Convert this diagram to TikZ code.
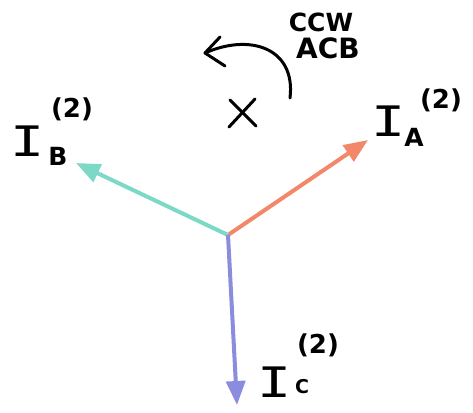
\documentclass[tikz,border=0pt]{standalone}
\usepackage{fontspec}
\usepackage{graphicx}
\setmainfont{DejaVu Sans}
\newfontfamily\barfont{DejaVu Sans Mono}
\usetikzlibrary{arrows.meta}
\definecolor{phA}{RGB}{242,135,106}
\definecolor{phB}{RGB}{126,216,198}
\definecolor{phC}{RGB}{140,140,222}
\newcommand{\wideI}{\scalebox{1.35}[1]{I}}
\tikzset{
  phasor/.style={line width=4pt,-{Triangle[length=24pt,width=19pt]}},
  ink/.style={line width=3pt,line cap=round,line join=round,black},
  bigI/.style={inner sep=0pt,font=\barfont\fontsize{42}{42}\selectfont},
  sub/.style={inner sep=0pt,font=\bfseries\fontsize{25}{25}\selectfont},
  sup/.style={inner sep=0pt,font=\bfseries\fontsize{26}{26}\selectfont},
  note/.style={inner sep=0pt,font=\bfseries\fontsize{25}{25}\selectfont}
}
\begin{document}
\begin{tikzpicture}[x=1pt,y=-1pt]
\useasboundingbox (0,0) rectangle (473,412);
\coordinate (O) at (228,235);
\coordinate (tA) at (368,140);
\coordinate (tB) at (76,163);
\coordinate (tC) at (237,405);
\draw[phasor,phA] (O) -- (tA);
\draw[phasor,phB] (O) -- (tB);
\draw[phasor,phC] (O) -- (tC);
% labels
\node[bigI] (IA) at (389,121) {\wideI};
\node[sub] (IAs) at (414,137) {A};
\node[sup] (IAp) at (441,100) {(2)};
\node[bigI] (IB) at (28,141) {\wideI};
\node[sub] (IBs) at (58,156) {B};
\node[sup] (IBp) at (72,109) {(2)};
\node[bigI] (IC) at (275,382) {\wideI};
\node[sub,font=\bfseries\fontsize{19}{19}\selectfont] (ICs) at (302,387) {C};
\node[sup] (ICp) at (318,345) {(2)};
% rotation note
\node[note] (ccw) at (321,22) {CCW};
\node[note,font=\bfseries\fontsize{28}{28}\selectfont] (acb) at (328,48) {ACB};
\coordinate (r0) at (290,98);
\coordinate (r1) at (205,53);
\draw[ink] (r0) .. controls (296,48) and (250,33) .. (r1);
\draw[ink] (r1) -- (220,37);
\draw[ink] (r1) -- (225,66);
% X mark
\draw[ink] (230,100) -- (256,126);
\draw[ink] (255,99) -- (229,127);
\end{tikzpicture}
\end{document}
